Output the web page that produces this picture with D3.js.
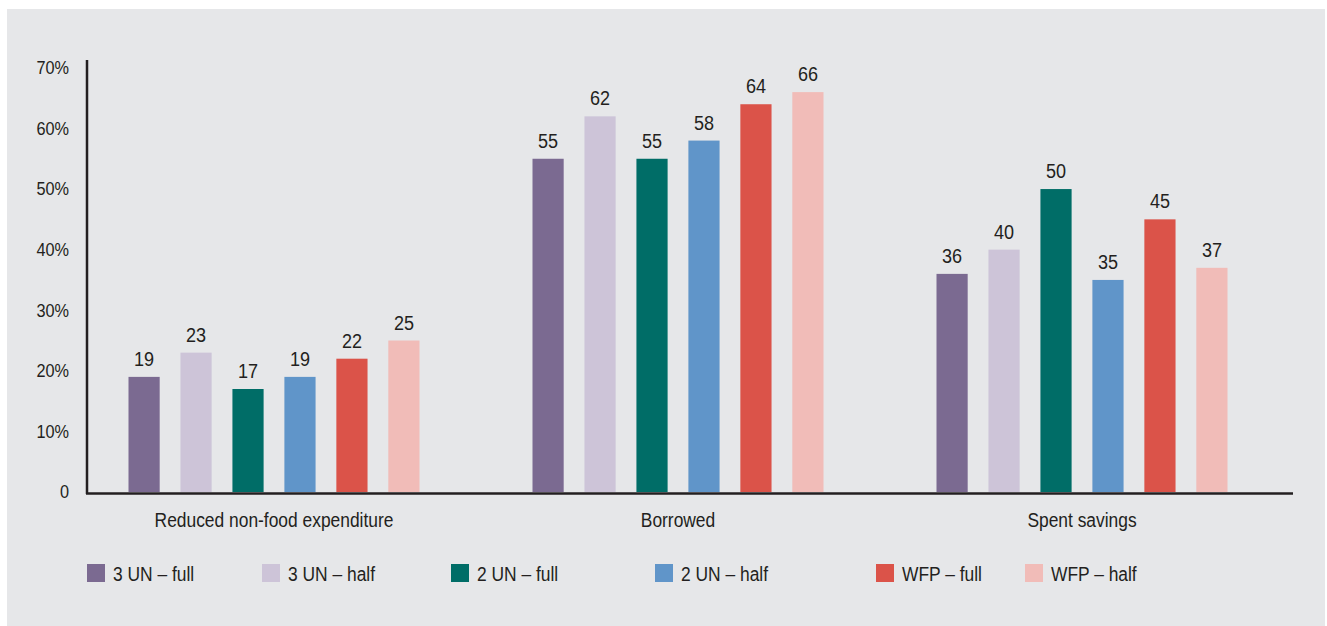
<!DOCTYPE html>
<html>
<head>
<meta charset="utf-8">
<script src="https://cdn.jsdelivr.net/npm/d3@7/dist/d3.min.js"></script>
<style>
  html, body { margin: 0; padding: 0; background: #ffffff; }
  svg { display: block; }
  text { font-family: "Liberation Sans", Arial, Helvetica, sans-serif; fill: #231f20; }
</style>
</head>
<body>
<svg id="chart" width="1327" height="626"></svg>
<script>
const categories = ["Reduced non-food expenditure", "Borrowed", "Spent savings"];
const seriesNames = ["3 UN – full", "3 UN – half", "2 UN – full", "2 UN – half", "WFP – full", "WFP – half"];
const seriesColors = ["#7b6a91", "#cdc4d8", "#006d67", "#6095c9", "#db5349", "#f1bcb8"];
const valuesReduced = [19, 23, 17, 19, 22, 25];
const valuesBorrowed = [55, 62, 55, 58, 64, 66];
const valuesSavings = [36, 40, 50, 35, 45, 37];
const tickValues = [0, 10, 20, 30, 40, 50, 60, 70];
const tickLabels = ["0", "10%", "20%", "30%", "40%", "50%", "60%", "70%"];

const seriesValues = [valuesReduced, valuesBorrowed, valuesSavings];

// layout constants
const axisLeft = 87, axisRight = 1293, axisTop = 60, axisBottom = 492;
const legendX = [87, 262, 451, 655, 876, 1025];
const SX = 0.88; // condensed look

const svg = d3.select("#chart");
svg.append("rect").attr("x", 7).attr("y", 9).attr("width", 1318).attr("height", 617).attr("fill", "#e6e7e9");

const y = d3.scaleLinear().domain([0, 71.3]).range([axisBottom, axisTop]);
const x0 = d3.scaleBand().domain(categories).range([72, 1284]).paddingInner(0).paddingOuter(0);
const groupW = 291;
const x1 = d3.scaleBand().domain(seriesNames).range([-groupW / 2, groupW / 2]).paddingInner(0.4).paddingOuter(0);

function condensedText(sel, x, y, size, anchor, sx) {
  return sel.append("text")
    .attr("transform", `translate(${x},${y}) scale(${sx},1)`)
    .attr("text-anchor", anchor)
    .attr("font-size", size);
}

// bars
const groups = svg.append("g").selectAll("g")
  .data(categories)
  .join("g")
  .attr("transform", c => `translate(${x0(c) + x0.bandwidth() / 2},0)`);

groups.each(function(c, ci) {
  const g = d3.select(this);
  const vals = seriesValues[ci].map((v, i) => ({ name: seriesNames[i], v, color: seriesColors[i] }));
  g.selectAll("rect").data(vals).join("rect")
    .attr("x", d => x1(d.name))
    .attr("width", x1.bandwidth())
    .attr("y", d => y(d.v))
    .attr("height", d => y(0) - y(d.v))
    .attr("fill", d => d.color);
  vals.forEach(d => {
    condensedText(g, x1(d.name) + x1.bandwidth() / 2, y(d.v) - 11, 20.5, "middle", SX).text(d.v);
  });
  condensedText(g, 0, 527, 20, "middle", 0.87).text(c);
});

// y axis
const yAxis = d3.axisLeft(y).tickValues(tickValues).tickSize(0).tickPadding(18)
  .tickFormat((d, i) => tickLabels[i]);
const ya = svg.append("g").attr("transform", `translate(${axisLeft},0)`).call(yAxis);
ya.select(".domain").remove();
ya.selectAll(".tick text")
  .attr("font-size", 18.5)
  .attr("fill", "#231f20")
  .attr("font-family", "\"Liberation Sans\", Arial, sans-serif")
  .attr("x", -18 / SX)
  .attr("transform", `scale(${SX},1)`);

svg.append("line").attr("x1", axisLeft).attr("x2", axisLeft).attr("y1", axisTop).attr("y2", axisBottom + 2)
  .attr("stroke", "#231f20").attr("stroke-width", 2.5);
svg.append("line").attr("x1", axisLeft - 1).attr("x2", axisRight).attr("y1", axisBottom + 1.5).attr("y2", axisBottom + 1.5)
  .attr("stroke", "#231f20").attr("stroke-width", 2.5);

// legend
const legend = svg.append("g").selectAll("g").data(seriesNames).join("g")
  .attr("transform", (d, i) => `translate(${legendX[i]},564)`);
legend.append("rect").attr("width", 18).attr("height", 18).attr("fill", (d, i) => seriesColors[i]);
legend.each(function(d) {
  condensedText(d3.select(this), 26, 17, 20, "start", 0.87).text(d);
});
</script>
</body>
</html>
